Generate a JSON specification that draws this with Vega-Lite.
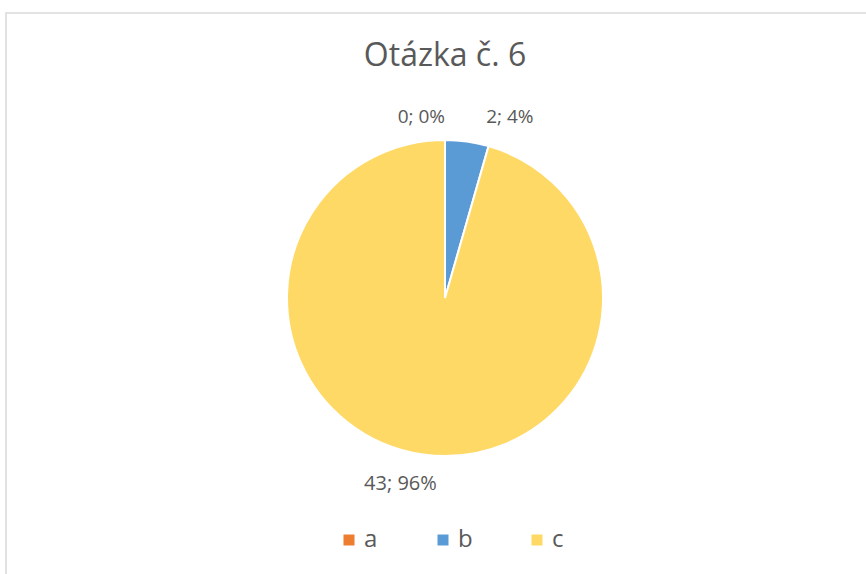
{
  "$schema": "https://vega.github.io/schema/vega-lite/v6.json",
  "width": 878,
  "height": 570,
  "autosize": {"type": "none"},
  "padding": {"left": 6, "top": 13, "right": 0, "bottom": 0},
  "background": "white",
  "view": {"stroke": "#d9d9d9", "strokeWidth": 1.5},
  "config": {
    "view": {"stroke": "#d9d9d9", "strokeWidth": 1.5},
    "font": "Open Sans"
  },
  "title": {
    "text": "Otázka č. 6",
    "anchor": "middle",
    "frame": "group",
    "baseline": "alphabetic",
    "offset": -56,
    "dy": 29,
    "fontSize": 32,
    "fontWeight": "normal",
    "font": "Open Sans",
    "color": "#595959"
  },
  "data": {
    "values": [
      {"category": "a", "count": 0, "label": "0; 0%"},
      {"category": "b", "count": 2, "label": "2; 4%"},
      {"category": "c", "count": 43, "label": "43; 96%"}
    ]
  },
  "encoding": {
    "theta": {"field": "count", "type": "quantitative", "stack": true},
    "order": {"field": "category", "type": "nominal"}
  },
  "layer": [
    {
      "mark": {"type": "arc", "outerRadius": 158, "stroke": "white", "strokeWidth": 2},
      "encoding": {
        "color": {
          "field": "category",
          "type": "nominal",
          "scale": {"domain": ["a", "b", "c"], "range": ["#ED7D31", "#5B9BD5", "#FFD966"]},
          "legend": {
            "title": null,
            "orient": "none",
            "direction": "horizontal",
            "legendX": 331,
            "legendY": 515,
            "symbolType": "square",
            "symbolSize": 121,
            "symbolStrokeWidth": 0,
            "labelFontSize": 24,
            "labelColor": "#595959",
            "labelFont": "Open Sans",
            "labelOffset": 3,
            "columnPadding": 52,
            "gridAlign": "all"
          }
        }
      }
    },
    {
      "mark": {"type": "text", "radius": 181, "fontSize": 19, "color": "#595959", "font": "Open Sans", "align": "right"},
      "encoding": {
        "text": {"condition": {"test": "datum.category === 'a'", "field": "label"}, "value": ""}
      }
    },
    {
      "mark": {"type": "text", "radius": 181, "fontSize": 19, "color": "#595959", "font": "Open Sans", "align": "left", "dx": 16, "dy": -2},
      "encoding": {
        "text": {"condition": {"test": "datum.category === 'b'", "field": "label"}, "value": ""}
      }
    },
    {
      "mark": {"type": "text", "radius": 181, "fontSize": 20, "color": "#595959", "font": "Open Sans", "align": "right", "dx": 17, "dy": 7},
      "encoding": {
        "text": {"condition": {"test": "datum.category === 'c'", "field": "label"}, "value": ""}
      }
    }
  ]
}
